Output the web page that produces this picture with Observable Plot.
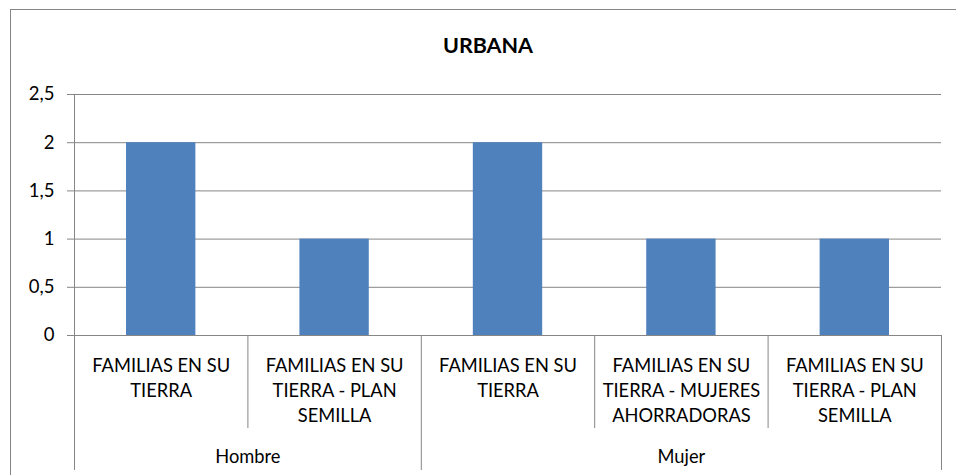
<!DOCTYPE html>
<html>
<head>
<meta charset="utf-8">
<script src="https://cdn.jsdelivr.net/npm/d3@7"></script>
<script src="https://cdn.jsdelivr.net/npm/@observablehq/plot@0.6"></script>
<style>
  html, body { margin: 0; padding: 0; background: #fff; }
  #wrap { position: relative; width: 956px; height: 475px; overflow: hidden; font-family: Lato, "Open Sans", sans-serif; }
  #frame { position: absolute; left: 10px; top: 9px; width: 960px; height: 500px; border: 1.5px solid #868686; box-sizing: border-box; pointer-events: none; }
  #title { position: absolute; left: 0; width: 976px; top: 33px; text-align: center; font-weight: bold; font-size: 21.5px; color: #000; margin: 0; line-height: 24px; }
</style>
</head>
<body>
<div id="wrap">
  <div id="title">URBANA</div>
  <div id="chart"></div>
  <div id="frame"></div>
</div>
<script>
const title = "URBANA";
const groups = ["Hombre", "Hombre", "Mujer", "Mujer", "Mujer"];
const categories = [
  "FAMILIAS EN SU\nTIERRA",
  "FAMILIAS EN SU\nTIERRA - PLAN\nSEMILLA",
  "FAMILIAS EN SU\nTIERRA",
  "FAMILIAS EN SU\nTIERRA - MUJERES\nAHORRADORAS",
  "FAMILIAS EN SU\nTIERRA - PLAN\nSEMILLA"
];
const values = [2, 1, 2, 1, 1];
const yTicks = [0, 0.5, 1, 1.5, 2, 2.5];

const data = categories.map((c, i) => ({i, category: c, group: groups[i], value: values[i]}));
const n = data.length;

// group spans
const groupSpans = [];
groups.forEach((g, i) => {
  const last = groupSpans[groupSpans.length - 1];
  if (last && last.group === g) last.end = i + 1;
  else groupSpans.push({group: g, start: i, end: i + 1});
});
const groupEdges = [0, ...groupSpans.map(s => s.end)];
const subEdges = d3.range(1, n).filter(k => !groupEdges.includes(k));

const grey = "#868686";
const font = "Lato, 'Open Sans', sans-serif";
const frameH = 335 - 94;

const chart = Plot.plot({
  width: 956,
  height: 475,
  marginTop: 94,
  marginBottom: 140,
  marginLeft: 74,
  marginRight: 15,
  style: {fontFamily: font, background: "transparent", overflow: "visible"},
  x: {domain: [0, n], axis: null},
  y: {domain: [0, 2.5], axis: null},
  marks: [
    Plot.gridY(yTicks, {stroke: grey, strokeOpacity: 1, strokeWidth: 1}),
    Plot.axisY(yTicks, {
      tickSize: 7, tickPadding: 13, stroke: grey, strokeOpacity: 1,
      tickFormat: d => String(d).replace(".", ","),
      fontSize: 18.5, fill: "#000", label: null
    }),
    Plot.rectY(data, {x1: d => d.i + 0.3, x2: d => d.i + 0.7, y: "value", fill: "#4F81BD"}),
    // vertical axis line
    Plot.ruleX([0], {stroke: grey, strokeWidth: 1}),
    // group dividers below the axis
    Plot.ruleX(groupEdges, {stroke: grey, strokeWidth: 1, insetTop: frameH, insetBottom: -135}),
    // category dividers
    Plot.ruleX(subEdges, {stroke: grey, strokeWidth: 1, insetTop: frameH, insetBottom: -93}),
    // category labels
    Plot.text(data, {
      x: d => d.i + 0.5, text: "category", frameAnchor: "bottom",
      lineAnchor: "top", dy: 19, lineHeight: 1.36, fontSize: 18.3, fill: "#000"
    }),
    // group labels
    Plot.text(groupSpans, {
      x: d => (d.start + d.end) / 2, text: "group", frameAnchor: "bottom",
      lineAnchor: "middle", dy: 122, fontSize: 18.3, fill: "#000"
    })
  ]
});
document.getElementById("chart").appendChild(chart);
</script>
</body>
</html>
